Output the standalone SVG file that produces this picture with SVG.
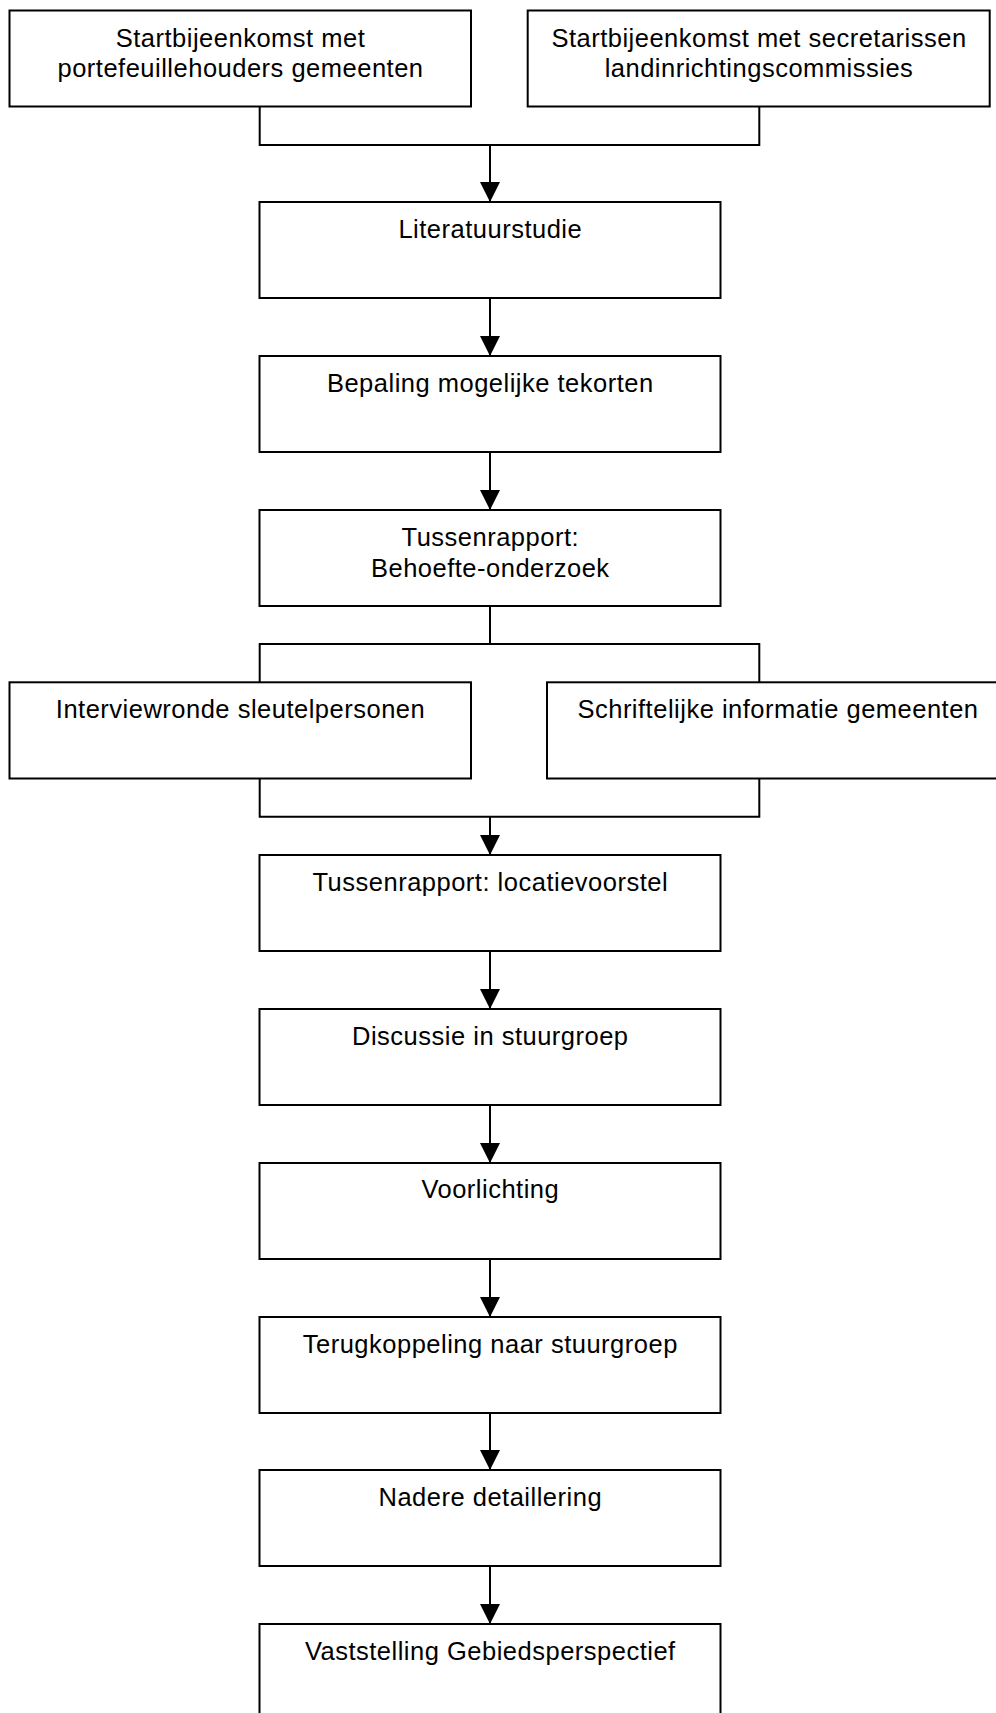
<svg xmlns="http://www.w3.org/2000/svg" width="996" height="1713" viewBox="0 0 996 1713">
<defs>
<style>
.box{fill:#fff;stroke:#000;stroke-width:2}
.t{font-family:"Liberation Sans",Arial,sans-serif;font-size:25.5px;letter-spacing:0.5px;fill:#000;text-anchor:middle}
.c{fill:none;stroke:#000;stroke-width:2}
</style>
<marker id="ah" markerWidth="20" markerHeight="20" refX="20" refY="10" orient="auto" markerUnits="userSpaceOnUse" viewBox="0 0 20 20">
<path d="M0,0 L20,10 L0,20 Z" fill="#000"/>
</marker>
</defs>
<rect width="996" height="1713" fill="#fff"/>
<g id="connectors">
<path class="c" d="M259.7,106.5 V145 H759.3 V106.5"/>
<path class="c" d="M490,145 V202" marker-end="url(#ah)"/>
<path class="c" d="M490,298 V356" marker-end="url(#ah)"/>
<path class="c" d="M490,452 V510" marker-end="url(#ah)"/>
<path class="c" d="M490,606 V644"/>
<path class="c" d="M259.7,682.3 V644 H759.3 V682.3"/>
<path class="c" d="M259.7,778.5 V816.7 H759.3 V778.5"/>
<path class="c" d="M490,816.7 V855" marker-end="url(#ah)"/>
<path class="c" d="M490,951 V1009" marker-end="url(#ah)"/>
<path class="c" d="M490,1105 V1163" marker-end="url(#ah)"/>
<path class="c" d="M490,1259 V1317" marker-end="url(#ah)"/>
<path class="c" d="M490,1413 V1470" marker-end="url(#ah)"/>
<path class="c" d="M490,1566 V1624" marker-end="url(#ah)"/>
</g>
<g id="n1"><rect class="box" x="9.5" y="10.5" width="461.5" height="96"/><text class="t" x="240.5" y="46.5">Startbijeenkomst met</text><text class="t" x="240.5" y="77">portefeuillehouders gemeenten</text></g>
<g id="n2"><rect class="box" x="527.7" y="10.5" width="462" height="96"/><text class="t" x="759" y="46.5">Startbijeenkomst met secretarissen</text><text class="t" x="759" y="77">landinrichtingscommissies</text></g>
<g id="n3"><rect class="box" x="259.5" y="202" width="461" height="96"/><text class="t" x="490.3" y="238">Literatuurstudie</text></g>
<g id="n4"><rect class="box" x="259.5" y="356" width="461" height="96"/><text class="t" x="490.3" y="392">Bepaling mogelijke tekorten</text></g>
<g id="n5"><rect class="box" x="259.5" y="510" width="461" height="96"/><text class="t" x="490.3" y="546">Tussenrapport:</text><text class="t" x="490.3" y="577">Behoefte-onderzoek</text></g>
<g id="n6"><rect class="box" x="9.5" y="682.3" width="461.5" height="96.2"/><text class="t" x="240.5" y="718.3">Interviewronde sleutelpersonen</text></g>
<g id="n7"><rect class="box" x="547" y="682.3" width="461.5" height="96.2"/><text class="t" x="778" y="718.3">Schriftelijke informatie gemeenten</text></g>
<g id="n8"><rect class="box" x="259.5" y="855" width="461" height="96"/><text class="t" x="490.3" y="891">Tussenrapport: locatievoorstel</text></g>
<g id="n9"><rect class="box" x="259.5" y="1009" width="461" height="96"/><text class="t" x="490.3" y="1045">Discussie in stuurgroep</text></g>
<g id="n10"><rect class="box" x="259.5" y="1163" width="461" height="96"/><text class="t" x="490.3" y="1198.3">Voorlichting</text></g>
<g id="n11"><rect class="box" x="259.5" y="1317" width="461" height="96"/><text class="t" x="490.3" y="1352.5">Terugkoppeling naar stuurgroep</text></g>
<g id="n12"><rect class="box" x="259.5" y="1470" width="461" height="96"/><text class="t" x="490.3" y="1506">Nadere detaillering</text></g>
<g id="n13"><rect class="box" x="259.5" y="1624" width="461" height="96"/><text class="t" x="490.3" y="1659.5">Vaststelling Gebiedsperspectief</text></g>
</svg>
